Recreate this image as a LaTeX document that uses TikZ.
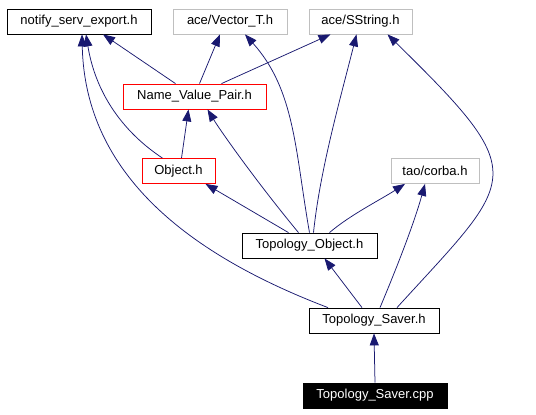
\documentclass[tikz,border=0pt]{standalone}
\usepackage{fontspec}
\setmainfont{Liberation Sans}
\usetikzlibrary{arrows.meta}
\definecolor{incl}{RGB}{25,25,112}
\definecolor{extgray}{RGB}{191,191,191}
\tikzset{
  hdr/.style={draw=black,line width=.8pt,minimum height=25pt,inner sep=0pt,
    font=\fontsize{13}{15}\selectfont},
  exthdr/.style={hdr,draw=extgray},
  cychdr/.style={hdr,draw=red},
  roothdr/.style={hdr,fill=black,text=white},
  inc/.style={incl,line width=.75pt,-{Triangle[length=12pt,width=9pt]}}
}
\begin{document}
\begin{tikzpicture}[x=1pt,y=-1pt]
    \useasboundingbox (0,0) rectangle (536,415);

    % Cabeceras de arriba.
    \node[hdr,minimum width=144pt] (nse) at (79,21.5) {notify\_serv\_export.h};
    \node[exthdr,minimum width=114pt] (vect) at (230,21.5) {ace/Vector\_T.h};
    \node[exthdr,minimum width=103pt] (sstr) at (360.5,21.5) {ace/SString.h};

    % Nivel intermedio.
    \node[cychdr,minimum width=143pt] (nvp) at (194.5,96.5) {Name\_Value\_Pair.h};
    \node[cychdr,minimum width=73pt] (obj) at (178.5,171) {Object.h};
    \node[exthdr,minimum width=88pt] (corba) at (435,171) {tao/corba.h};
    \node[hdr,minimum width=135pt] (topobj) at (309.5,245.5) {Topology\_Object.h};
    \node[hdr,minimum width=130pt] (saver) at (374,320.5) {Topology\_Saver.h};
    \node[roothdr,minimum width=144pt] (savercpp) at (375,395.5) {Topology\_Saver.cpp};

    % Inclusiones de Name_Value_Pair.h y Object.h.
    \draw[inc] ([xshift=-19pt]nvp.north) -- ([xshift=24pt]nse.south);
    \draw[inc] ([xshift=5pt]nvp.north) -- ([xshift=-10pt]vect.south);
    \draw[inc] ([xshift=27pt]nvp.north) -- ([xshift=-30pt]sstr.south);
    \draw[inc] ([xshift=3pt]obj.north) -- ([xshift=-6pt]nvp.south);
    \draw[inc] ([xshift=-16pt]obj.north) .. controls (120,130) and (95,90) .. ([xshift=7pt]nse.south);

    % Inclusiones de Topology_Object.h.
    \draw[inc] ([xshift=-21pt]topobj.north) -- ([xshift=27pt]obj.south);
    \draw[inc] ([xshift=-11pt]topobj.north) .. controls (255,180) and (220,130) .. ([xshift=13pt]nvp.south);
    \draw[inc] (topobj.north) .. controls (295,150) and (295,90) .. ([xshift=15pt]vect.south);
    \draw[inc] ([xshift=4pt]topobj.north) .. controls (320,170) and (340,100) .. ([xshift=-4pt]sstr.south);
    \draw[inc] ([xshift=20pt]topobj.north) .. controls (350,215) and (380,200) .. ([xshift=-30pt]corba.south);

    % Inclusiones de Topology_Saver.h y del .cpp.
    \draw[inc] ([xshift=-46pt]saver.north) .. controls (190,255) and (85,175) .. ([xshift=3pt]nse.south);
    \draw[inc] ([xshift=-12pt]saver.north) -- ([xshift=15pt]topobj.south);
    \draw[inc] ([xshift=6pt]saver.north) .. controls (400,260) and (415,220) .. ([xshift=-10pt]corba.south);
    \draw[inc] ([xshift=23pt]saver.north) .. controls (517,176) and (533,177) .. ([xshift=27pt]sstr.south);
    \draw[inc] (savercpp.north) -- (saver.south);
\end{tikzpicture}
\end{document}
